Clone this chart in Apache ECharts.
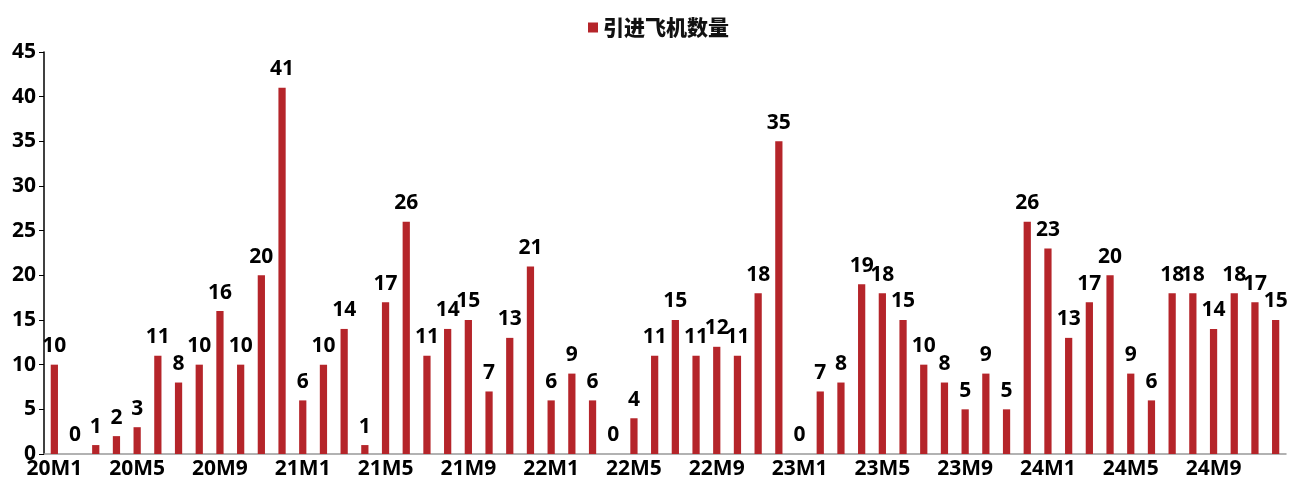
<!DOCTYPE html>
<html><head><meta charset="utf-8">
<script src="https://cdn.jsdelivr.net/npm/echarts@6/dist/echarts.min.js"></script>
<style>html,body{margin:0;padding:0;background:#fff}#c{width:1292px;height:484px}</style>
</head><body><div id="c"></div>
<script>
const categories = [];
for (const y of ['20','21','22','23','24']) for (let m = 1; m <= 12; m++) categories.push(y + 'M' + m);
const seriesName = '引进飞机数量';
const values = [
  10,0,1,2,3,11,8,10,16,10,20,41,
  6,10,14,1,17,26,11,14,15,7,13,21,
  6,9,6,0,4,11,15,11,12,11,18,35,
  0,7,8,19,18,15,10,8,5,9,5,26,
  23,13,17,20,9,6,18,18,14,18,17,15
];
const yTicks = {min:0, max:45, interval:5};
const font = '"Open Sans","Noto Sans CJK SC",sans-serif';
const chart = echarts.init(document.getElementById('c'));
chart.setOption({
  animation:false,
  textStyle:{fontFamily:font},
  legend:{top:12, left:583, itemWidth:10, itemHeight:10, icon:'rect', itemGap:6,
    textStyle:{fontSize:21, fontWeight:900, color:'#111', fontFamily:'"Noto Sans CJK SC",sans-serif'}},
  grid:{left:44, right:6, top:52, bottom:30, containLabel:false},
  xAxis:{type:'category', data:categories,
    axisLine:{lineStyle:{color:'#999', width:1.5}},
    axisTick:{show:false},
    axisLabel:{interval:3, fontSize:21, fontWeight:'bold', color:'#000', margin:5, fontFamily:font}},
  yAxis:{type:'value', min:yTicks.min, max:yTicks.max, interval:yTicks.interval,
    splitLine:{show:false},
    axisLine:{show:true, lineStyle:{color:'#000', width:1.5}},
    axisTick:{show:true, length:5, lineStyle:{color:'#000'}},
    axisLabel:{fontSize:21, fontWeight:'bold', color:'#000', margin:8, fontFamily:font}},
  series:[{name:seriesName, type:'bar', data:values, barWidth:'35%',
    itemStyle:{color:'#B5252A'},
    label:{show:true, position:'top', distance:8, fontSize:21, fontWeight:'bold', color:'#000', fontFamily:font}}]
});
</script></body></html>
